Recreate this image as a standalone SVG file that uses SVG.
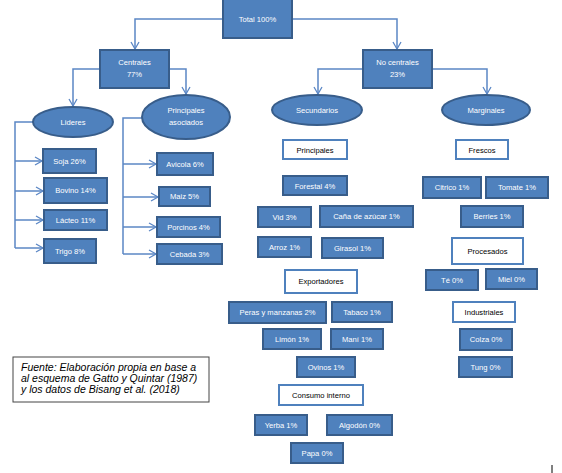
<svg xmlns="http://www.w3.org/2000/svg" width="562" height="473" viewBox="0 0 562 473">
<defs>
<marker id="ar" markerWidth="10" markerHeight="10" refX="8" refY="5" orient="auto" markerUnits="userSpaceOnUse">
<polyline points="1,1 8,5 1,9" fill="none" stroke="#5B87C5" stroke-width="1.3"/>
</marker>
<style>
.b{fill:#4F81BD;stroke:#385D8A;stroke-width:2}
.w{fill:#ffffff;stroke:#4F81BD;stroke-width:2}
.t{font-family:"Liberation Sans",Arial,sans-serif;font-size:7.6px;fill:#ffffff;text-anchor:middle}
.k{font-family:"Liberation Sans",Arial,sans-serif;font-size:7.6px;fill:#000000;text-anchor:middle}
.c{fill:none;stroke:#5B87C5;stroke-width:1.5}
.f{font-family:"Liberation Sans",Arial,sans-serif;font-size:10.5px;font-style:italic;fill:#000000}
</style>
</defs>
<rect width="562" height="473" fill="#ffffff"/>
<g id="connectors">
<path class="c" d="M223,19 H135 V49" marker-end="url(#ar)"/>
<path class="c" d="M292,19 H397 V49" marker-end="url(#ar)"/>
<path class="c" d="M100,69 H73 V106" marker-end="url(#ar)"/>
<path class="c" d="M169,69 H186 V94" marker-end="url(#ar)"/>
<path class="c" d="M363,69 H318 V94" marker-end="url(#ar)"/>
<path class="c" d="M432,69 H487 V94" marker-end="url(#ar)"/>
<path class="c" d="M33,122 H15 V248"/>
<path class="c" d="M15,161 H42" marker-end="url(#ar)"/>
<path class="c" d="M15,191 H43" marker-end="url(#ar)"/>
<path class="c" d="M15,220 H43" marker-end="url(#ar)"/>
<path class="c" d="M15,248 H43" marker-end="url(#ar)"/>
<path class="c" d="M142,118 H123 V254"/>
<path class="c" d="M123,164 H156" marker-end="url(#ar)"/>
<path class="c" d="M123,197 H158" marker-end="url(#ar)"/>
<path class="c" d="M123,227 H156" marker-end="url(#ar)"/>
<path class="c" d="M123,254 H156" marker-end="url(#ar)"/>
</g>
<g id="total"><rect class="b" x="223" y="-1" width="69" height="39"/><text class="t" x="257.5" y="22">Total 100%</text></g>
<g id="centrales"><rect class="b" x="100" y="50" width="69" height="38"/><text class="t" x="134.5" y="65">Centrales</text><text class="t" x="134.5" y="77">77%</text></g>
<g id="nocentrales"><rect class="b" x="363" y="50" width="69" height="38"/><text class="t" x="397.5" y="65">No centrales</text><text class="t" x="397.5" y="77">23%</text></g>
<g id="lideres"><ellipse class="b" cx="73" cy="122" rx="40" ry="15"/><text class="t" x="73" y="125">Lideres</text></g>
<g id="principalesasociados"><ellipse class="b" cx="186" cy="117" rx="44" ry="22"/><text class="t" x="186" y="113">Principales</text><text class="t" x="186" y="125">asociados</text></g>
<g id="secundarios"><ellipse class="b" cx="317" cy="110" rx="45" ry="15"/><text class="t" x="317" y="113">Secundarios</text></g>
<g id="marginales"><ellipse class="b" cx="486" cy="110" rx="44" ry="15"/><text class="t" x="486" y="113">Marginales</text></g>
<g id="soja"><rect class="b" x="43" y="149" width="53" height="24"/><text class="t" x="69.5" y="164">Soja 26%</text></g>
<g id="bovino"><rect class="b" x="44" y="178" width="63" height="25"/><text class="t" x="75.5" y="193">Bovino 14%</text></g>
<g id="lacteo"><rect class="b" x="44" y="210" width="63" height="20"/><text class="t" x="75.5" y="223">Lácteo 11%</text></g>
<g id="trigo"><rect class="b" x="44" y="239" width="52" height="24"/><text class="t" x="70" y="254">Trigo 8%</text></g>
<g id="avicola"><rect class="b" x="157" y="153" width="56" height="22"/><text class="t" x="185" y="167">Avicola 6%</text></g>
<g id="maiz"><rect class="b" x="159" y="187" width="51" height="19"/><text class="t" x="184.5" y="199">Maiz 5%</text></g>
<g id="porcinos"><rect class="b" x="157" y="217" width="63" height="20"/><text class="t" x="188.5" y="230">Porcinos 4%</text></g>
<g id="cebada"><rect class="b" x="157" y="244" width="65" height="20"/><text class="t" x="189.5" y="257">Cebada 3%</text></g>
<g id="principales"><rect class="w" x="283" y="140" width="64" height="19"/><text class="k" x="315" y="153">Principales</text></g>
<g id="forestal"><rect class="b" x="283" y="176" width="64" height="19"/><text class="t" x="315" y="189">Forestal 4%</text></g>
<g id="vid"><rect class="b" x="258" y="207" width="53" height="20"/><text class="t" x="284.5" y="220">Vid 3%</text></g>
<g id="cana"><rect class="b" x="320" y="206" width="93" height="21"/><text class="t" x="366.5" y="219">Caña de azúcar 1%</text></g>
<g id="arroz"><rect class="b" x="258" y="237" width="53" height="20"/><text class="t" x="284.5" y="250">Arroz 1%</text></g>
<g id="girasol"><rect class="b" x="322" y="238" width="61" height="20"/><text class="t" x="352.5" y="251">Girasol 1%</text></g>
<g id="exportadores"><rect class="w" x="285" y="270" width="72" height="23"/><text class="k" x="321" y="284">Exportadores</text></g>
<g id="peras"><rect class="b" x="229" y="302" width="97" height="21"/><text class="t" x="277.5" y="315">Peras y manzanas 2%</text></g>
<g id="tabaco"><rect class="b" x="332" y="302" width="60" height="20"/><text class="t" x="362" y="315">Tabaco 1%</text></g>
<g id="limon"><rect class="b" x="263" y="329" width="58" height="20"/><text class="t" x="292" y="342">Limón 1%</text></g>
<g id="mani"><rect class="b" x="331" y="329" width="52" height="20"/><text class="t" x="357" y="342">Maní 1%</text></g>
<g id="ovinos"><rect class="b" x="297" y="357" width="58" height="20"/><text class="t" x="326" y="370">Ovinos 1%</text></g>
<g id="consumo"><rect class="w" x="279" y="385" width="84" height="20"/><text class="k" x="321" y="398">Consumo interno</text></g>
<g id="yerba"><rect class="b" x="255" y="415" width="52" height="20"/><text class="t" x="281" y="428">Yerba 1%</text></g>
<g id="algodon"><rect class="b" x="327" y="415" width="65" height="20"/><text class="t" x="359.5" y="428">Algodón 0%</text></g>
<g id="papa"><rect class="b" x="291" y="443" width="52" height="20"/><text class="t" x="317" y="456">Papa 0%</text></g>
<g id="frescos"><rect class="w" x="456" y="140" width="52" height="19"/><text class="k" x="482" y="153">Frescos</text></g>
<g id="citrico"><rect class="b" x="423" y="177" width="58" height="21"/><text class="t" x="452" y="190">Citrico 1%</text></g>
<g id="tomate"><rect class="b" x="486" y="177" width="62" height="21"/><text class="t" x="517" y="190">Tomate 1%</text></g>
<g id="berries"><rect class="b" x="461" y="206" width="62" height="21"/><text class="t" x="492" y="219">Berries 1%</text></g>
<g id="procesados"><rect class="w" x="452" y="238" width="71" height="26"/><text class="k" x="487.5" y="254">Procesados</text></g>
<g id="te"><rect class="b" x="426" y="270" width="52" height="20"/><text class="t" x="452" y="283">Té 0%</text></g>
<g id="miel"><rect class="b" x="486" y="269" width="51" height="20"/><text class="t" x="511.5" y="282">Miel 0%</text></g>
<g id="industriales"><rect class="w" x="453" y="302" width="62" height="20"/><text class="k" x="484" y="315">Industriales</text></g>
<g id="colza"><rect class="b" x="460" y="329" width="52" height="21"/><text class="t" x="486" y="342">Colza 0%</text></g>
<g id="tung"><rect class="b" x="459" y="357" width="53" height="20"/><text class="t" x="485.5" y="370">Tung 0%</text></g>
<g id="fuente"><rect x="13" y="357" width="196" height="45" fill="#ffffff" stroke="#444444" stroke-width="1"/>
<text class="f" x="21" y="371">Fuente: Elaboración propia en base a</text>
<text class="f" x="21" y="382">al esquema de Gatto y Quintar (1987)</text>
<text class="f" x="21" y="393">y los datos de Bisang et al. (2018)</text></g>
<line x1="552" y1="465" x2="552" y2="473" stroke="#000000" stroke-width="1"/>
</svg>
